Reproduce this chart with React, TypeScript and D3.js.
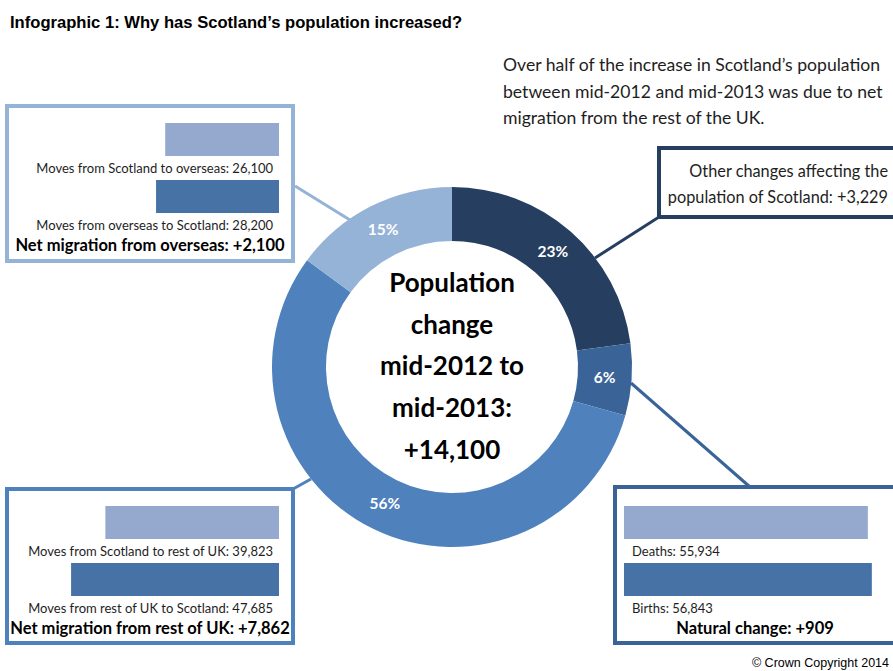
import React from "react";
import * as d3 from "d3";

const segmentNames = ["Other changes", "Natural change", "Net migration from rest of UK", "Net migration from overseas"];
const segmentValues = [3229, 909, 7862, 2100];
const segmentPercents = ["23%", "6%", "56%", "15%"];
const segmentColors = ["#263f61", "#3a6497", "#4f81bd", "#95b3d7"];

const overseasLabels = ["Moves from Scotland to overseas", "Moves from overseas to Scotland"];
const overseasValues = [26100, 28200];
const ukLabels = ["Moves from Scotland to rest of UK", "Moves from rest of UK to Scotland"];
const ukValues = [39823, 47685];
const naturalLabels = ["Deaths", "Births"];
const naturalValues = [55934, 56843];

const centerLines = ["Population", "change", "mid-2012 to", "mid-2013:", "+14,100"];
const introLines = [
  "Over half of the increase in Scotland\u2019s population",
  "between mid-2012 and mid-2013 was due to net",
  "migration from the rest of the UK.",
];

const FONT = "Lato, 'Open Sans', sans-serif";
const TEXT = "#1e1e1e";
const LIGHT_BAR = "#95a9cf";
const DARK_BAR = "#4672a5";

export default function App() {
  const cx = 452, cy = 367, r0 = 126, r1 = 180;
  const pie = d3.pie<number>().sort(null).value((d) => d)(segmentValues);
  const arc = d3.arc<d3.PieArcDatum<number>>().innerRadius(r0).outerRadius(r1);
  const barX = d3.scaleLinear().domain([0, 60000]).range([0, 261.6]);
  const fmt = d3.format(",");
  const net = d3.format("+,");

  const leftBars = (labels: string[], values: number[], top: number, title: string) => (
    <g>
      {values.map((v, i) => (
        <g key={i}>
          <rect x={279 - barX(v)} y={top + i * 57} width={barX(v)} height={33} fill={i === 0 ? LIGHT_BAR : DARK_BAR} />
          <text x={273} y={top + 50 + i * 57} textAnchor="end" fontSize={13} fill={TEXT} fontFamily={FONT}>
            {`${labels[i]}: ${fmt(v)}`}
          </text>
        </g>
      ))}
      <text x={150} y={top + 128} textAnchor="middle" fontSize={16.5} fontWeight="bold" fill="#000" fontFamily={FONT}>
        {`${title}: ${net(values[1] - values[0])}`}
      </text>
    </g>
  );

  return (
    <svg width={893} height={671} style={{ position: "absolute", left: 0, top: 0, background: "#fff" }}>
      <rect x={0} y={0} width={893} height={671} fill="#fff" />
      <text x={10} y={28} fontFamily="'Liberation Sans', Arial, sans-serif" fontWeight="bold" fontSize={16.6} fill="#000">
        Infographic 1: Why has Scotland’s population increased?
      </text>
      {introLines.map((l, i) => (
        <text key={i} x={503} y={71 + i * 26.5} fontFamily={FONT} fontSize={17.6} fill={TEXT}>
          {l}
        </text>
      ))}

      {/* connectors */}
      <line x1={295} y1={186} x2={350} y2={220} stroke="#95b3d7" strokeWidth={3} />
      <line x1={659} y1={217} x2={595} y2={258} stroke="#263f61" strokeWidth={3} />
      <line x1={631} y1={383} x2={750} y2={487} stroke="#3a6497" strokeWidth={3} />
      <line x1={293} y1={489} x2={311} y2={479} stroke="#4f81bd" strokeWidth={3} />

      {/* donut */}
      <g transform={`translate(${cx},${cy})`}>
        {pie.map((d, i) => (
          <path key={segmentNames[i]} d={arc(d) || ""} fill={segmentColors[i]} />
        ))}
        {pie.map((d, i) => {
          const [x, y] = arc.centroid(d);
          return (
            <text key={i} x={x} y={y + 5} textAnchor="middle" fontFamily={FONT} fontWeight="bold" fontSize={15.5} fill="#fff">
              {segmentPercents[i]}
            </text>
          );
        })}
        {centerLines.map((l, i) => (
          <text key={l} x={0} y={-75 + i * 41.7} textAnchor="middle" fontFamily={FONT} fontWeight="bold" fontSize={26} fill="#000">
            {l}
          </text>
        ))}
      </g>

      {/* top-left box */}
      <rect x={7} y={106} width={286} height={155} fill="#fff" stroke="#95b3d7" strokeWidth={4} />
      {leftBars(overseasLabels, overseasValues, 123, "Net migration from overseas")}

      {/* bottom-left box */}
      <rect x={7} y={489} width={286} height={154} fill="#fff" stroke="#4f81bd" strokeWidth={4} />
      {leftBars(ukLabels, ukValues, 506, "Net migration from rest of UK")}

      {/* top-right box */}
      <rect x={659} y={148} width={260} height={69} fill="#fff" stroke="#263f61" strokeWidth={4} />
      <text x={888} y={177} textAnchor="end" fontFamily={FONT} fontSize={16.3} fill={TEXT}>Other changes affecting the</text>
      <text x={888} y={203} textAnchor="end" fontFamily={FONT} fontSize={16.3} fill={TEXT}>
        {`population of Scotland: ${net(segmentValues[0])}`}
      </text>

      {/* bottom-right box */}
      <rect x={615} y={487} width={300} height={156} fill="#fff" stroke="#3a6497" strokeWidth={4} />
      {naturalValues.map((v, i) => (
        <g key={i}>
          <rect x={624} y={506 + i * 57} width={barX(v)} height={33} fill={i === 0 ? LIGHT_BAR : DARK_BAR} />
          <text x={632} y={556 + i * 57} fontFamily={FONT} fontSize={13} fill={TEXT}>
            {`${naturalLabels[i]}: ${fmt(v)}`}
          </text>
        </g>
      ))}
      <text x={755} y={634} textAnchor="middle" fontFamily={FONT} fontWeight="bold" fontSize={16.5} fill="#000">
        {`Natural change: ${net(naturalValues[1] - naturalValues[0])}`}
      </text>

      <text x={889} y={667} textAnchor="end" fontFamily="'Liberation Sans', Arial, sans-serif" fontSize={12.5} fill="#000">
        © Crown Copyright 2014
      </text>
    </svg>
  );
}
